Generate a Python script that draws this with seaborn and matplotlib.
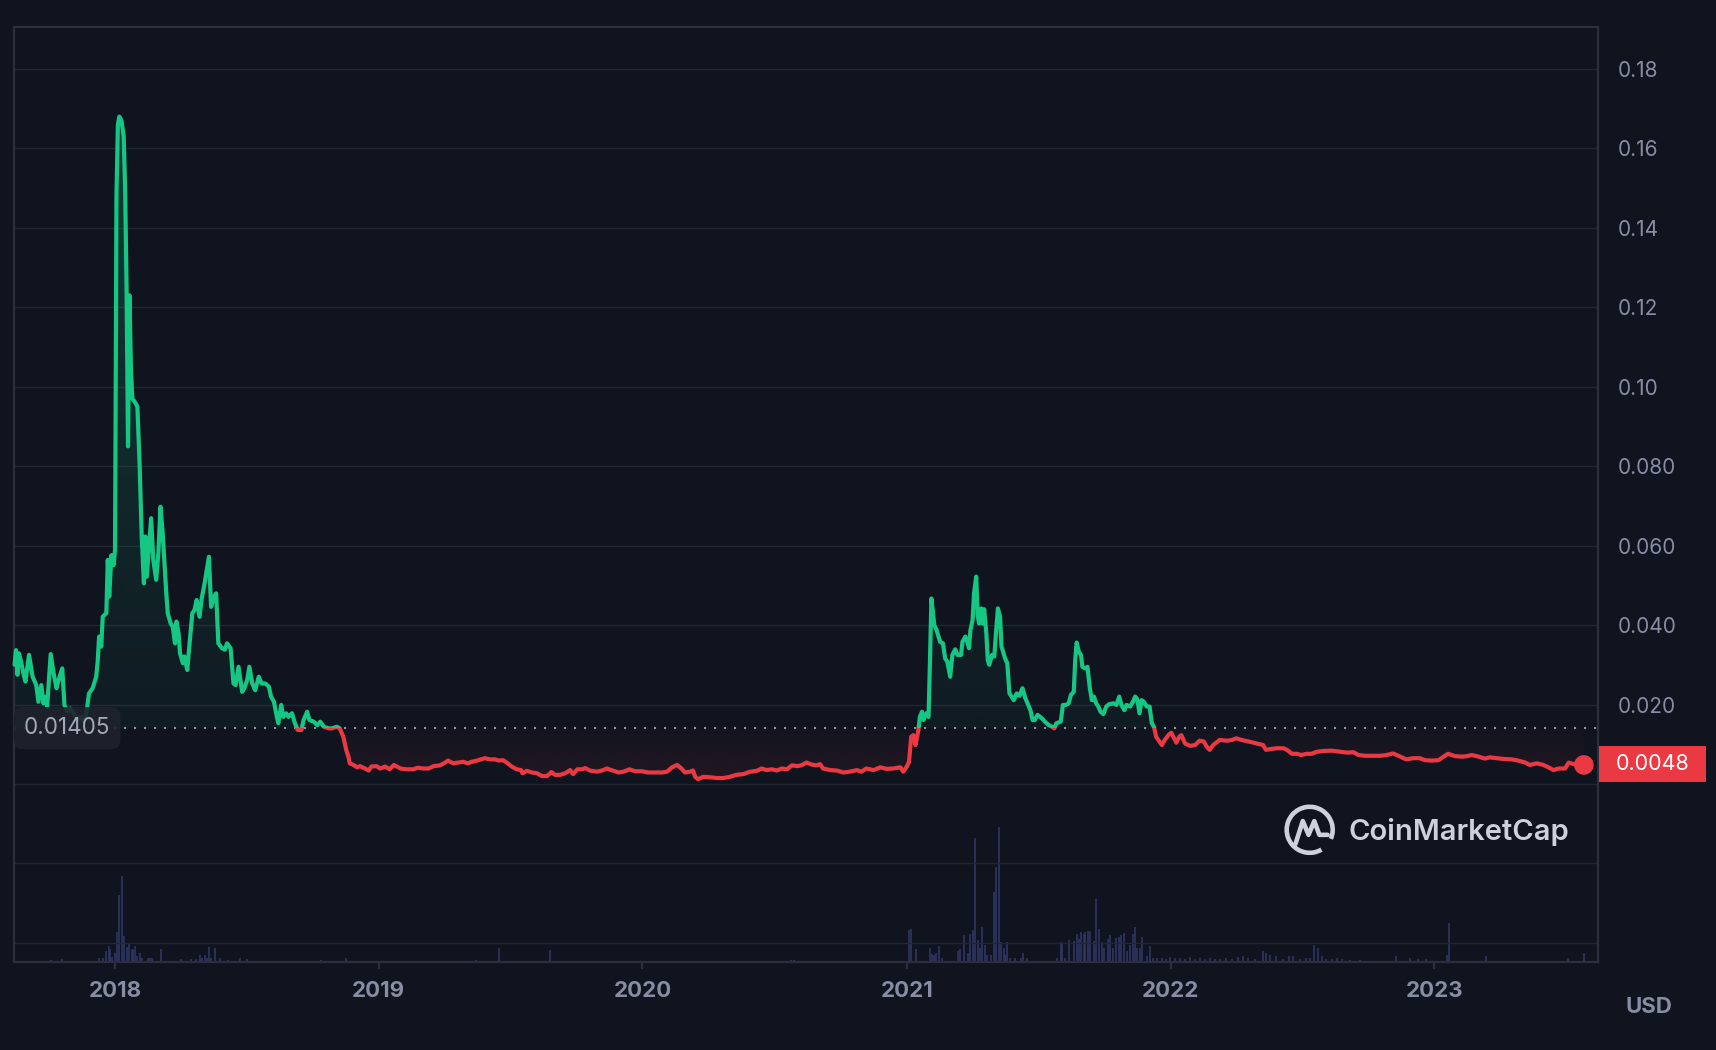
import numpy as np
import pandas as pd
import matplotlib
matplotlib.use("Agg")
import matplotlib.pyplot as plt
import seaborn as sns
from matplotlib.patches import Rectangle, Arc
from matplotlib.path import Path
from matplotlib.colors import to_rgb
from matplotlib.lines import Line2D
from matplotlib.transforms import blended_transform_factory
import matplotlib.dates as mdates

# ---------------- data ----------------
# day offsets from 2018-01-01 and price in USD
days = [-139, -137, -135, -133, -130, -127, -124, -119, -114, -109, -106, -102, -99, -96, -94,
        -89, -85, -81, -78, -73, -70, -66, -62, -57, -53, -48, -43, -39, -36, -31, -26, -24,
        -22, -19, -17, -12, -10, -8, -5, -2, 0, 1, 2, 4, 6, 9, 12, 14, 16, 18, 20, 22, 24, 28,
        31, 34, 37, 40, 42, 44, 47, 50, 53, 57, 60, 63, 66, 71, 73, 77, 80, 83, 85, 88, 90, 94,
        96, 100, 102, 107, 110, 113, 117, 120, 124, 130, 133, 137, 140, 143, 148, 152, 155, 160,
        164, 167, 171, 176, 179, 183, 186, 190, 194, 199, 203, 208, 213, 216, 220, 224, 226, 230,
        233, 237, 240, 245, 249, 253, 258, 261, 266, 269, 275, 280, 284, 289, 296, 300, 307, 311,
        316, 320, 323, 325, 330, 335, 339, 346, 351, 355, 362, 367, 374, 380, 386, 395, 404, 413,
        419, 427, 434, 441, 450, 457, 461, 468, 475, 482, 488, 494, 501, 508, 512, 519, 526, 531,
        537, 542, 549, 556, 562, 564, 570, 577, 584, 591, 598, 604, 609, 616, 623, 630, 634, 640,
        646, 651, 657, 667, 674, 681, 687, 697, 704, 712, 720, 729, 738, 747, 757, 764, 771, 778,
        784, 789, 796, 800, 803, 807, 814, 824, 833, 842, 851, 860, 870, 879, 888, 895, 902, 909,
        916, 923, 930, 937, 944, 950, 957, 964, 971, 976, 980, 990, 999, 1008, 1017, 1027, 1033,
        1040, 1050, 1059, 1068, 1077, 1087, 1091, 1096, 1099, 1102, 1105, 1108, 1112, 1114, 1117,
        1119, 1123, 1126, 1128, 1130, 1134, 1137, 1142, 1146, 1149, 1152, 1156, 1159, 1163, 1166,
        1171, 1173, 1177, 1179, 1182, 1184, 1187, 1189, 1192, 1194, 1196, 1199, 1201, 1203, 1206,
        1208, 1210, 1214, 1217, 1219, 1222, 1225, 1227, 1232, 1235, 1238, 1241, 1244, 1248, 1252,
        1256, 1260, 1263, 1267, 1270, 1273, 1277, 1283, 1287, 1292, 1297, 1300, 1303, 1309, 1312,
        1316, 1320, 1323, 1327, 1329, 1331, 1334, 1337, 1339, 1343, 1346, 1349, 1352, 1355, 1358,
        1361, 1364, 1368, 1372, 1376, 1382, 1386, 1390, 1393, 1397, 1400, 1405, 1409, 1412, 1415,
        1418, 1421, 1424, 1428, 1432, 1435, 1438, 1441, 1444, 1449, 1453, 1458, 1462, 1466, 1469,
        1473, 1476, 1481, 1488, 1495, 1501, 1507, 1511, 1515, 1520, 1529, 1539, 1546, 1552, 1559,
        1569, 1580, 1589, 1593, 1599, 1608, 1617, 1622, 1629, 1636, 1642, 1649, 1656, 1663, 1672,
        1684, 1696, 1705, 1714, 1721, 1730, 1739, 1751, 1760, 1769, 1779, 1787, 1797, 1806, 1813,
        1822, 1832, 1839, 1845, 1855, 1864, 1871, 1878, 1887, 1896, 1903, 1912, 1922, 1933, 1942,
        1952, 1958, 1968, 1977, 1984, 1991, 1998, 2007, 2012, 2019, 2026, 2033]
price = [0.0300, 0.0337, 0.0275, 0.0329, 0.0308, 0.0280, 0.0258, 0.0325, 0.0270, 0.0249, 0.0207,
         0.0249, 0.0203, 0.0220, 0.0195, 0.0327, 0.0279, 0.0241, 0.0262, 0.0291, 0.0199, 0.0182,
         0.0190, 0.0178, 0.0161, 0.0169, 0.0157, 0.0186, 0.0228, 0.0241, 0.0270, 0.0308, 0.0371,
         0.0346, 0.0421, 0.0430, 0.0564, 0.0472, 0.0576, 0.0551, 0.0589, 0.1000, 0.1480, 0.1660,
         0.1680, 0.1670, 0.1630, 0.1500, 0.1250, 0.0850, 0.1230, 0.1050, 0.0970, 0.0960, 0.0950,
         0.0807, 0.0623, 0.0505, 0.0623, 0.0522, 0.0597, 0.0669, 0.0564, 0.0514, 0.0581, 0.0698,
         0.0631, 0.0480, 0.0430, 0.0404, 0.0396, 0.0354, 0.0409, 0.0379, 0.0329, 0.0304, 0.0321,
         0.0287, 0.0329, 0.0430, 0.0438, 0.0463, 0.0421, 0.0467, 0.0505, 0.0572, 0.0446, 0.0472,
         0.0480, 0.0354, 0.0342, 0.0338, 0.0354, 0.0342, 0.0253, 0.0249, 0.0295, 0.0232, 0.0241,
         0.0262, 0.0295, 0.0253, 0.0236, 0.0270, 0.0253, 0.0253, 0.0245, 0.0220, 0.0207, 0.0169,
         0.0153, 0.0199, 0.0169, 0.0178, 0.0169, 0.0178, 0.0153, 0.0136, 0.0136, 0.0161, 0.0182,
         0.0161, 0.0157, 0.0148, 0.0157, 0.0144, 0.0140, 0.0140, 0.0144, 0.0140, 0.0119, 0.0086,
         0.0069, 0.0052, 0.0048, 0.0042, 0.0045, 0.0039, 0.0034, 0.0044, 0.0045, 0.0039, 0.0044,
         0.0037, 0.0048, 0.0039, 0.0037, 0.0037, 0.0041, 0.0039, 0.0039, 0.0045, 0.0047, 0.0054,
         0.0059, 0.0052, 0.0054, 0.0056, 0.0052, 0.0056, 0.0059, 0.0063, 0.0065, 0.0062, 0.0062,
         0.0059, 0.0060, 0.0054, 0.0044, 0.0037, 0.0035, 0.0027, 0.0033, 0.0029, 0.0027, 0.0020,
         0.0020, 0.0030, 0.0023, 0.0023, 0.0027, 0.0035, 0.0025, 0.0037, 0.0037, 0.0040, 0.0034,
         0.0031, 0.0034, 0.0039, 0.0035, 0.0029, 0.0031, 0.0037, 0.0032, 0.0032, 0.0029, 0.0029,
         0.0029, 0.0031, 0.0042, 0.0048, 0.0039, 0.0029, 0.0031, 0.0034, 0.0018, 0.0012, 0.0018,
         0.0017, 0.0015, 0.0015, 0.0018, 0.0023, 0.0025, 0.0031, 0.0033, 0.0039, 0.0035, 0.0037,
         0.0034, 0.0039, 0.0037, 0.0047, 0.0045, 0.0047, 0.0054, 0.0049, 0.0047, 0.0050, 0.0039,
         0.0035, 0.0034, 0.0029, 0.0031, 0.0035, 0.0031, 0.0039, 0.0035, 0.0042, 0.0038, 0.0039,
         0.0042, 0.0031, 0.0044, 0.0056, 0.0119, 0.0123, 0.0098, 0.0136, 0.0169, 0.0182, 0.0161,
         0.0178, 0.0169, 0.0312, 0.0467, 0.0400, 0.0388, 0.0358, 0.0354, 0.0316, 0.0308, 0.0270,
         0.0325, 0.0339, 0.0325, 0.0325, 0.0358, 0.0371, 0.0362, 0.0342, 0.0388, 0.0413, 0.0480,
         0.0522, 0.0425, 0.0404, 0.0442, 0.0404, 0.0440, 0.0379, 0.0312, 0.0300, 0.0325, 0.0321,
         0.0371, 0.0442, 0.0421, 0.0346, 0.0316, 0.0304, 0.0228, 0.0220, 0.0211, 0.0228, 0.0222,
         0.0241, 0.0216, 0.0203, 0.0186, 0.0161, 0.0161, 0.0174, 0.0165, 0.0157, 0.0149, 0.0144,
         0.0140, 0.0153, 0.0157, 0.0199, 0.0199, 0.0203, 0.0224, 0.0232, 0.0312, 0.0356, 0.0333,
         0.0325, 0.0295, 0.0291, 0.0295, 0.0245, 0.0211, 0.0220, 0.0203, 0.0195, 0.0182, 0.0176,
         0.0195, 0.0201, 0.0203, 0.0199, 0.0220, 0.0199, 0.0186, 0.0199, 0.0195, 0.0207, 0.0220,
         0.0213, 0.0178, 0.0211, 0.0207, 0.0195, 0.0195, 0.0153, 0.0144, 0.0119, 0.0111, 0.0098,
         0.0111, 0.0123, 0.0129, 0.0115, 0.0104, 0.0119, 0.0123, 0.0102, 0.0096, 0.0098, 0.0109,
         0.0107, 0.0094, 0.0086, 0.0098, 0.0111, 0.0109, 0.0111, 0.0115, 0.0111, 0.0107, 0.0102,
         0.0098, 0.0086, 0.0088, 0.0090, 0.0090, 0.0086, 0.0076, 0.0076, 0.0073, 0.0076, 0.0076,
         0.0081, 0.0083, 0.0084, 0.0081, 0.0079, 0.0080, 0.0073, 0.0071, 0.0071, 0.0071, 0.0073,
         0.0077, 0.0069, 0.0062, 0.0065, 0.0065, 0.0060, 0.0059, 0.0060, 0.0069, 0.0076, 0.0070,
         0.0069, 0.0070, 0.0073, 0.0069, 0.0064, 0.0067, 0.0065, 0.0063, 0.0062, 0.0059, 0.0054,
         0.0048, 0.0052, 0.0048, 0.0042, 0.0035, 0.0039, 0.0039, 0.0054, 0.0050, 0.0045, 0.0048]

# trading volume (relative bar heights) by day offset from 2018-01-01
vol_days = [-89, -73, -22, -16, -13, -9, -7, -4, 0, 3, 6, 9, 13, 16, 19, 23, 25, 28, 31, 35, 38,
            45, 48, 51, 63, 67, 92, 105, 112, 117, 121, 124, 127, 130, 133, 139, 146, 156, 173,
            183, 285, 320, 500, 532, 552, 602, 935, 940, 952, 1099, 1102, 1109, 1128, 1131, 1134,
            1137, 1140, 1145, 1167, 1170, 1175, 1180, 1184, 1188, 1191, 1194, 1197, 1200, 1204,
            1207, 1212, 1216, 1220, 1223, 1226, 1230, 1232, 1235, 1239, 1246, 1254, 1257, 1262,
            1304, 1309, 1311, 1315, 1321, 1327, 1331, 1334, 1337, 1341, 1343, 1347, 1350, 1355,
            1358, 1362, 1366, 1369, 1374, 1377, 1381, 1385, 1390, 1393, 1396, 1401, 1405, 1409,
            1412, 1415, 1418, 1422, 1428, 1432, 1437, 1442, 1449, 1455, 1460, 1467, 1474, 1481,
            1488, 1495, 1502, 1509, 1516, 1523, 1529, 1538, 1546, 1554, 1561, 1568, 1578, 1589,
            1593, 1599, 1607, 1617, 1625, 1630, 1640, 1649, 1654, 1660, 1665, 1670, 1676, 1685,
            1692, 1698, 1709, 1723, 1773, 1793, 1803, 1814, 1844, 1847, 1898, 2011, 2033]
vol_rel = [1.7, 3.0, 4.0, 4.0, 11.0, 15.7, 13.0, 5.0, 9.0, 30.0, 67.0, 86.0, 26.0, 15.0, 19.0,
           12.7, 11.7, 15.7, 6.0, 9.0, 4.0, 4.0, 3.3, 3.3, 12.3, 1.0, 2.7, 2.3, 2.3, 6.7, 4.0,
           6.7, 3.3, 15.0, 3.3, 14.0, 3.3, 1.3, 3.3, 2.7, 2.0, 4.0, 2.0, 13.3, 1.0, 11.6, 2.0,
           2.0, 1.0, 31.6, 32.3, 12.3, 13.3, 7.7, 7.0, 8.8, 15.8, 3.5, 11.2, 12.3, 26.3, 8.8,
           27.4, 31.6, 123.5, 21.7, 14.0, 35.0, 16.8, 7.0, 6.3, 70.2, 94.7, 135.0, 19.3, 13.3,
           7.0, 19.3, 4.2, 4.2, 3.5, 8.8, 3.5, 3.5, 19.3, 18.2, 4.2, 21.7, 20.3, 27.4, 22.8,
           29.8, 27.4, 29.8, 30.9, 30.9, 21.0, 63.1, 32.3, 19.3, 13.3, 22.8, 26.3, 14.0, 23.9,
           24.6, 26.3, 28.8, 11.2, 16.8, 27.4, 34.4, 13.3, 14.0, 24.6, 5.3, 15.8, 4.0, 3.5, 4.0,
           3.0, 5.0, 3.5, 4.0, 3.0, 4.5, 3.0, 3.5, 3.0, 3.5, 2.5, 3.0, 4.0, 3.0, 5.0, 6.0, 3.5,
           2.5, 10.5, 8.8, 7.0, 5.3, 3.0, 5.3, 5.3, 3.0, 3.5, 3.5, 17.0, 13.3, 5.3, 2.5, 3.0,
           4.2, 2.5, 2.0, 2.0, 5.3, 3.5, 2.8, 2.8, 7.0, 38.6, 5.3, 4.2, 9.0]

baseline_price = 0.01405
last_price = 0.0048
y_ticks = [0.18, 0.16, 0.14, 0.12, 0.10, 0.08, 0.06, 0.04, 0.02, 0.0, -0.02, -0.04]
y_labels = ["0.18", "0.16", "0.14", "0.12", "0.10", "0.080", "0.060", "0.040", "0.020", "", "", ""]
year_ticks = ["2018-01-01", "2019-01-01", "2020-01-01", "2021-01-01", "2022-01-01", "2023-01-01"]
year_labels = ["2018", "2019", "2020", "2021", "2022", "2023"]

# ---------------- style ----------------
BG = "#10141f"
GRID = "#222632"
SPINE = "#2b2f3b"
GREEN = "#16c784"
RED = "#ea3943"
VOL = "#333869"
TICK = "#878da2"
LW = 3.0

sns.set_theme(style="dark", rc={"axes.facecolor": BG, "figure.facecolor": BG,
                                "savefig.facecolor": BG})
plt.rcParams["font.family"] = ["Inter", "DejaVu Sans"]

W, H = 1716, 1050
fig = plt.figure(figsize=(W / 100, H / 100), dpi=100)
ax = fig.add_axes([14 / W, 1 - 961.7 / H, 1584 / W, 935 / H])
ax.set_facecolor(BG)

t0 = pd.Timestamp("2018-01-01")
df = pd.DataFrame({"date": t0 + pd.to_timedelta(days, unit="D"), "price": price})
xmin = t0 + pd.to_timedelta(-139.8, unit="D")
xmax = t0 + pd.to_timedelta(2052.6, unit="D")
ymin, ymax = -0.04473, 0.19063

# volume bars on a twin axis (drawn beneath the price axis)
ax2 = ax.twinx()
vdates = t0 + pd.to_timedelta(vol_days, unit="D")
ax2.vlines(vdates, 0, vol_rel, color=VOL, linewidth=1.1, zorder=1)
ax2.set_ylim(0, 935)
ax2.set_yticks([])
ax2.grid(False)
for s in ax2.spines.values():
    s.set_visible(False)
ax2.set_xlim(xmin, xmax)
ax.set_zorder(ax2.get_zorder() + 1)
ax.patch.set_visible(False)
ax2.patch.set_visible(True)
ax2.patch.set_facecolor(BG)

# gridlines and price ticks on the right
ax.set_yticks(y_ticks)
ax.set_yticklabels(y_labels)
ax.yaxis.tick_right()
ax.grid(True, axis="y", color=GRID, linewidth=1.0)
ax.grid(False, axis="x")
ax.set_axisbelow(True)

# gradient fills between price and reference line
x_num = mdates.date2num(df["date"])
def gradient_fill(mask, color, y_lo, y_hi, a_lo, a_hi):
    poly = ax.fill_between(x_num, df["price"].values, baseline_price, where=mask,
                           interpolate=True, facecolor="none", edgecolor="none", linewidth=0)
    paths = poly.get_paths()
    if not paths:
        return
    path = Path.make_compound_path(*paths)
    n = 256
    rgba = np.zeros((n, 1, 4))
    rgba[..., :3] = to_rgb(color)
    rgba[..., 3] = np.linspace(a_lo, a_hi, n)[:, None]
    im = ax.imshow(rgba, extent=[x_num.min(), x_num.max(), y_lo, y_hi], origin="lower",
                   aspect="auto", zorder=1, interpolation="bilinear")
    im.set_clip_path(path, transform=ax.transData)

p = df["price"].values
gradient_fill(p >= baseline_price, GREEN, baseline_price, 0.17, 0.04, 0.22)
gradient_fill(p <= baseline_price, RED, 0.0, baseline_price, 0.09, 0.015)

# reference dotted line
ax.axhline(baseline_price, color="#8e94a4", linewidth=1.5, linestyle=(0, (1, 3.8)), zorder=2)

# price line: green above reference, red below
sns.lineplot(data=df, x="date", y="price", ax=ax, color=GREEN, linewidth=LW,
             estimator=None, sort=False, zorder=4)
line_g = ax.lines[-1]
sns.lineplot(data=df, x="date", y="price", ax=ax, color=RED, linewidth=LW,
             estimator=None, sort=False, zorder=4)
line_r = ax.lines[-1]
for ln in (line_g, line_r):
    ln.set_solid_joinstyle("round")
    ln.set_solid_capstyle("round")
big = 1e5
clip_g = Rectangle((x_num.min() - big, baseline_price), 2 * big, 10, transform=ax.transData)
clip_r = Rectangle((x_num.min() - big, baseline_price - 10), 2 * big, 10, transform=ax.transData)
line_g.set_clip_path(clip_g)
line_r.set_clip_path(clip_r)

# last price dot
sns.scatterplot(x=[df["date"].iloc[-1]], y=[last_price], ax=ax, color=RED, s=200,
                edgecolor="none", zorder=6)

ax.set_xlim(xmin, xmax)
ax.set_ylim(ymin, ymax)
ax.set_xlabel("")
ax.set_ylabel("")

ax.set_xticks(pd.to_datetime(year_ticks))
ax.set_xticklabels(year_labels)
ax.tick_params(axis="x", length=5, width=1.6, color=SPINE, pad=9, labelsize=16,
               labelcolor=TICK, direction="out", bottom=True)
ax.tick_params(axis="y", which="both", length=0, pad=14.5, labelsize=15, labelcolor=TICK,
               left=False, labelleft=False, right=True, labelright=True)
for lab in ax.get_yticklabels():
    lab.set_va("center_baseline")
for lab in ax.get_xticklabels():
    lab.set_fontweight("bold")
for s in ax.spines.values():
    s.set_visible(True)
    s.set_color(SPINE)
    s.set_linewidth(1.6)

# reference price label (left)
bt = blended_transform_factory(ax.transAxes, ax.transData)
ax.text(0.0335, baseline_price, "0.01405", transform=bt,
        ha="center", va="center", fontsize=16.2, color="#a3a8b5", zorder=8,
        bbox=dict(boxstyle="round,pad=0.45,rounding_size=0.45", fc="#1f222d", ec="none", alpha=0.9))

# current price label (right)
ax.add_patch(Rectangle((1.0006, 0.0005), 0.0676, 0.00907, transform=bt, facecolor=RED,
                       edgecolor="none", clip_on=False, zorder=8))
ax.text(1.0344, last_price + 0.0002, "0.0048", transform=bt, ha="center", va="center",
        fontsize=15.5, color="white", zorder=9, clip_on=False)

# USD label
fig.text(1649 / W, 1 - 1006.7 / H, "USD", ha="center", va="center", fontsize=16,
         fontweight="bold", color=TICK)

# CoinMarketCap watermark
WM = "#cdd1db"
cx, cy, r = 1309.7, 1 - 829.8 / H, 23.0
fig.patches.append(Arc((cx / W, cy), 2 * r / W, 2 * r / H, theta1=-35, theta2=290,
                       transform=fig.transFigure, color=WM, linewidth=3.3))
mx = [-0.62, -0.30, -0.05, 0.20, 0.42, 0.78]
my = [-0.62, 0.38, -0.22, 0.38, -0.22, -0.22]
fig.lines.append(Line2D([(cx + a * r) / W for a in mx], [cy + b * r / H for b in my],
                        transform=fig.transFigure, color=WM, linewidth=3.3,
                        solid_joinstyle="round", solid_capstyle="round"))
fig.text(1349 / W, 1 - 832 / H, "CoinMarketCap", ha="left", va="center", fontsize=21,
         fontweight="semibold", color=WM)

fig.savefig("out.png", dpi=100, facecolor=BG)
